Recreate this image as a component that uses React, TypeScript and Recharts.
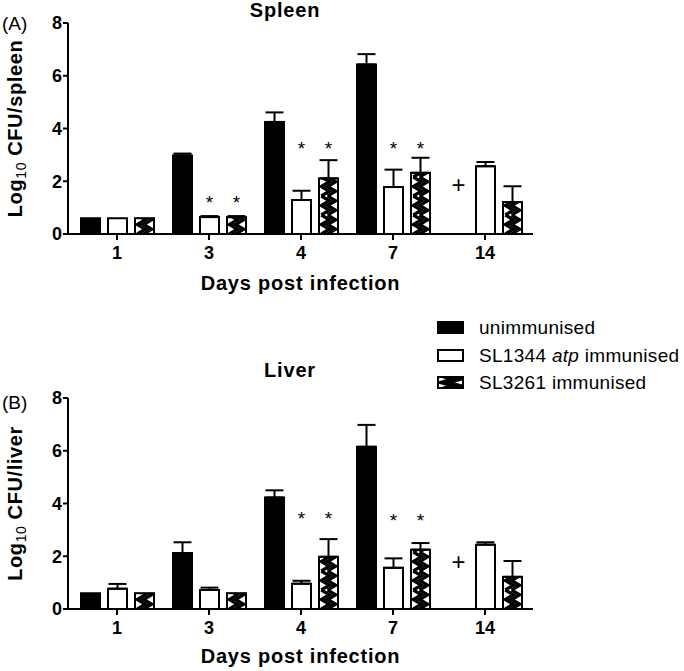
import React from "react"
import { BarChart, Bar, XAxis, YAxis, ErrorBar } from "recharts"

const days = ["1", "3", "4", "7", "14"]

// spleen, log10 CFU (mean and upper SEM)
const spleenUnimmunised = [0.6, 2.98, 4.25, 6.43, null]
const spleenUnimmunisedErr = [0, 0.07, 0.36, 0.39, null]
const spleenAtp = [0.6, 0.64, 1.29, 1.78, 2.57]
const spleenAtpErr = [0, 0.04, 0.35, 0.66, 0.16]
const spleenSl3261 = [0.6, 0.64, 2.11, 2.32, 1.21]
const spleenSl3261Err = [0, 0.04, 0.69, 0.57, 0.6]
const spleenStars = [null, 1.36, 3.43, 3.4, null]
const spleenPlus = [null, null, null, null, 1.87]

// liver
const liverUnimmunised = [0.6, 2.12, 4.23, 6.15, null]
const liverUnimmunisedErr = [0, 0.41, 0.27, 0.83, null]
const liverAtp = [0.77, 0.72, 0.96, 1.56, 2.44]
const liverAtpErr = [0.18, 0.09, 0.11, 0.36, 0.09]
const liverSl3261 = [0.6, 0.6, 1.98, 2.25, 1.22]
const liverSl3261Err = [0, 0, 0.67, 0.25, 0.6]
const liverStars = [null, null, 3.6, 3.53, null]
const liverPlus = [null, null, null, null, 1.77]

const yTicks = [0, 2, 4, 6, 8]
const Y_MAX = 8

const FONT = "'Liberation Sans', Arial, Helvetica, sans-serif"
const PAT_H = 19
const BAR_GAP = 8

type Num = number | null

function buildRows(u: Num[], uErr: Num[], a: Num[], aErr: Num[], s: Num[], sErr: Num[]) {
  return days.map((day, i) => ({
    day,
    unimmunised: u[i],
    unimmunisedErr: uErr[i],
    atp: a[i],
    atpErr: aErr[i],
    sl3261: s[i],
    sl3261Err: sErr[i],
  }))
}

const spleenRows = buildRows(spleenUnimmunised, spleenUnimmunisedErr, spleenAtp, spleenAtpErr, spleenSl3261, spleenSl3261Err)
const liverRows = buildRows(liverUnimmunised, liverUnimmunisedErr, liverAtp, liverAtpErr, liverSl3261, liverSl3261Err)

// only upward error bars
const upper = (key: string) => (d: any) => (d[key] ? [0, d[key]] : null)

// two parallel zigzags, leaving a white zigzag channel between them
function Zigzag({ w, h }: { w: number; h: number }) {
  const a = w * 0.12
  const b = w * 0.55
  const left = `${a},0 ${b},${h / 4} ${a},${h / 2} ${b},${(3 * h) / 4} ${a},${h}`
  const right = `${w - b},0 ${w - a},${h / 4} ${w - b},${h / 2} ${w - a},${(3 * h) / 4} ${w - b},${h}`
  return (
    <>
      <rect width={w} height={h} fill="#fff" />
      <polyline points={left} fill="none" stroke="#000" strokeWidth={3.2} />
      <polyline points={right} fill="none" stroke="#000" strokeWidth={3.2} />
    </>
  )
}

const patternBar = (chartId: string) => (props: any) => {
  const { x, y, width, height, index } = props
  if (!height || height <= 0) return <g />
  const pid = `${chartId}-sl3261-${index}`
  return (
    <g>
      <defs>
        <pattern id={pid} patternUnits="userSpaceOnUse" x={x} y={y + height} width={width} height={PAT_H}>
          <Zigzag w={width} h={PAT_H} />
        </pattern>
      </defs>
      <rect x={x} y={y} width={width} height={height} fill={`url(#${pid})`} stroke="#000" strokeWidth={2} />
    </g>
  )
}

// asterisks / plus drawn in a bar's background column; shift moves the mark
// by whole bar slots (the "+" sits where the missing unimmunised bar would be)
const marks = (values: Num[], glyph: string, size: number, lift: number, shift = 0) => (props: any) => {
  const { x, y, width, height, index } = props
  const v = values[index]
  if (v == null) return <g key={`m-${glyph}-${index}`} />
  const cy = y + height * (1 - v / Y_MAX)
  const cx = x + width / 2 + shift * (width + BAR_GAP)
  return (
    <text
      key={`m-${glyph}-${index}`}
      x={cx}
      y={cy + size * lift}
      textAnchor="middle"
      fontFamily={FONT}
      fontSize={size}
      fill="#000"
    >
      {glyph}
    </text>
  )
}

type ChartProps = {
  id: string
  top: number
  height: number
  axisHeight: number
  titleDrop: number
  rows: any[]
  stars: Num[]
  plus: Num[]
  organ: string
}

function OrganChart({ id, top, height, axisHeight, titleDrop, rows, stars, plus, organ }: ChartProps) {
  const tickStyle = { fill: "#000", fontSize: 18, fontWeight: "bold", fontFamily: FONT }
  const atpMarks = marks(stars, "*", 19, 0.58)
  const plusMark = marks(plus, "+", 24, 0.33, -1)
  return (
    <div style={{ position: "absolute", left: 0, top }}>
      <BarChart
        width={684}
        height={height}
        data={rows}
        margin={{ top: 23, right: 151, bottom: 0, left: 0 }}
        barSize={19}
        barGap={BAR_GAP}
      >
        <XAxis
          dataKey="day"
          interval={0}
          height={axisHeight}
          padding={{ left: 3, right: 2 }}
          axisLine={{ stroke: "#000", strokeWidth: 2 }}
          tickLine={{ stroke: "#000", strokeWidth: 2 }}
          tickSize={6}
          tickMargin={6}
          tick={tickStyle}
          label={(p: any) => {
            const vb = p.viewBox
            return (
              <text
                x={vb.x + vb.width / 2}
                y={vb.y + titleDrop}
                textAnchor="middle"
                fontFamily={FONT}
                fontSize={20}
                fontWeight="bold"
                letterSpacing={0.8}
                fill="#000"
              >
                Days post infection
              </text>
            )
          }}
        />
        <YAxis
          domain={[0, Y_MAX]}
          ticks={yTicks}
          width={68}
          axisLine={{ stroke: "#000", strokeWidth: 2 }}
          tickLine={{ stroke: "#000", strokeWidth: 2 }}
          tickSize={5}
          tickMargin={1}
          tick={tickStyle}
          label={(p: any) => {
            const vb = p.viewBox
            const bx = vb.x + 22
            const cy = vb.y + vb.height / 2
            return (
              <text
                x={bx}
                y={cy}
                transform={`rotate(-90 ${bx} ${cy})`}
                textAnchor="middle"
                fontFamily={FONT}
                fontSize={20}
                fontWeight="bold"
                letterSpacing={0.6}
                fill="#000"
              >
                Log
                <tspan fontSize={14} fontWeight="normal" dy={4}>
                  10
                </tspan>
                <tspan dy={-4}>{` CFU/${organ}`}</tspan>
              </text>
            )
          }}
        />
        <Bar dataKey="unimmunised" fill="#000" stroke="#000" strokeWidth={2} isAnimationActive={false}>
          <ErrorBar dataKey={upper("unimmunisedErr")} direction="y" width={9} stroke="#000" strokeWidth={2} />
        </Bar>
        <Bar
          dataKey="atp"
          fill="#fff"
          stroke="#000"
          strokeWidth={2}
          isAnimationActive={false}
          background={(p: any) => (
            <g key={`bg-${p.index}`}>
              {atpMarks(p)}
              {plusMark(p)}
            </g>
          )}
        >
          <ErrorBar dataKey={upper("atpErr")} direction="y" width={9} stroke="#000" strokeWidth={2} />
        </Bar>
        <Bar
          dataKey="sl3261"
          fill="#fff"
          isAnimationActive={false}
          shape={patternBar(id)}
          background={marks(stars, "*", 19, 0.58)}
        >
          <ErrorBar dataKey={upper("sl3261Err")} direction="y" width={9} stroke="#000" strokeWidth={2} />
        </Bar>
      </BarChart>
    </div>
  )
}

const legendItems = ["unimmunised", "SL1344 atp immunised", "SL3261 immunised"]

function Overlay() {
  const rowY = [321, 349, 376]
  return (
    <svg
      width={684}
      height={671}
      style={{ position: "absolute", left: 0, top: 0, pointerEvents: "none" }}
      fontFamily={FONT}
    >
      <defs>
        <pattern id="legend-pat" patternUnits="userSpaceOnUse" x={437} y={rowY[2]} width={27} height={13}>
          <Zigzag w={27} h={13} />
        </pattern>
      </defs>
      <text x={2} y={30} fontSize={19} fill="#000">(A)</text>
      <text x={285} y={17} fontSize={20} fontWeight="bold" textAnchor="middle" letterSpacing={0.8} fill="#000">
        Spleen
      </text>
      <text x={2} y={409} fontSize={19} fill="#000">(B)</text>
      <text x={290} y={377} fontSize={20} fontWeight="bold" textAnchor="middle" letterSpacing={0.8} fill="#000">
        Liver
      </text>

      <rect x={437} y={rowY[0]} width={27} height={13} fill="#000" />
      <rect x={438} y={rowY[1] + 1} width={25} height={11} fill="#fff" stroke="#000" strokeWidth={2} />
      <rect x={438} y={rowY[2] + 1} width={25} height={11} fill="url(#legend-pat)" stroke="#000" strokeWidth={2} />

      <g fontSize={19} letterSpacing={0.3} fill="#000">
        <text x={479} y={rowY[0] + 13}>{legendItems[0]}</text>
        <text x={479} y={rowY[1] + 13}>
          SL1344 <tspan fontStyle="italic">atp</tspan> immunised
        </text>
        <text x={479} y={rowY[2] + 13}>{legendItems[2]}</text>
      </g>
    </svg>
  )
}

export default function App() {
  return (
    <div style={{ position: "absolute", left: 0, top: 0, width: 684, height: 671, background: "#fff" }}>
      <OrganChart
        id="spleen"
        top={0}
        height={300}
        axisHeight={66}
        titleDrop={56}
        rows={spleenRows}
        stars={spleenStars}
        plus={spleenPlus}
        organ="spleen"
      />
      <OrganChart
        id="liver"
        top={375}
        height={296}
        axisHeight={62}
        titleDrop={54}
        rows={liverRows}
        stars={liverStars}
        plus={liverPlus}
        organ="liver"
      />
      <Overlay />
    </div>
  )
}
